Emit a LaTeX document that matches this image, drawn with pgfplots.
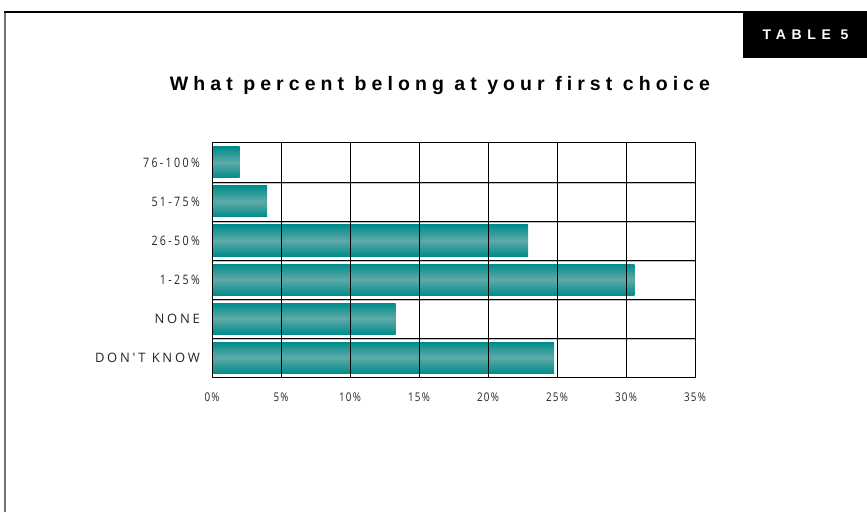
\documentclass[border=0pt]{standalone}
\usepackage{fontspec}
\setmainfont{Liberation Sans}
\usepackage{pgfplots}
\pgfplotsset{compat=1.18}
\newfontfamily\capsfont[LetterSpace=21]{Open Sans}
\newfontfamily\numfont[LetterSpace=18,FakeStretch=0.82]{Open Sans}
\newfontfamily\xnumfont[LetterSpace=10,FakeStretch=0.82]{Open Sans}
\newfontfamily\titlefont[LetterSpace=26]{Liberation Sans}
\newfontfamily\tablefont[LetterSpace=41]{Liberation Sans}
\definecolor{tealD}{RGB}{0,140,140}
\definecolor{tealL}{RGB}{95,170,168}
\pgfplotsset{tealbar/.style={xbar, bar width=31pt, bar shift=0pt, draw=none, top color=tealD, bottom color=tealD, middle color=tealL}}
\begin{document}
\begin{tikzpicture}[x=1pt,y=1pt]
\useasboundingbox (0,0) rectangle (867,512);
\fill[white] (0,0) rectangle (867,512);
\draw[black!55, line width=1.5pt] (5,0) -- (5,500);
\draw[black, line width=1.2pt] (4,500) -- (867,500);
\fill[black] (743,454.3) rectangle (867,500.3);
\node[white, anchor=base, inner sep=0pt] at (805.5,472.7) {\tablefont\bfseries\fontsize{14}{16}\selectfont TABLE 5};
\node[anchor=base, inner sep=0pt] at (440,421.3) {\titlefont\bfseries\fontsize{19.5}{22}\selectfont What percent belong at your first choice};
\begin{axis}[
  at={(212pt,135pt)}, anchor=south west,
  scale only axis, width=483pt, height=234pt,
  xmin=0, xmax=35, ymin=-0.5, ymax=5.5,
  xtick={0,5,...,35},
  xticklabels={0\%,5\%,10\%,15\%,20\%,25\%,30\%,35\%},
  ytick={0,1,2,3,4,5},
  yticklabels={{\capsfont DON'T KNOW},{\capsfont NONE},{\numfont 1-25\%},{\numfont 26-50\%},{\numfont 51-75\%},{\numfont 76-100\%}},
  major tick length=0pt,
  xmajorgrids,
  grid style={black, line width=0.8pt},
  extra y ticks={0.5,1.5,2.5,3.5,4.5},
  extra y tick labels={},
  extra y tick style={grid=major, major grid style={black, line width=0.9pt}},
  axis line style={black, line width=1pt},
  axis on top,
  yticklabel style={font=\fontsize{13}{15}\selectfont, text=black!85, anchor=east, inner sep=0pt, xshift=-12pt},
  xticklabel style={font=\xnumfont\fontsize{12}{14}\selectfont, text=black!85, anchor=base, inner sep=0pt, yshift=-24.7pt},
]
\foreach \k in {0.5,1.5,2.5,3.5,4.5}{
  \edef\tmp{\noexpand\draw[black!25, line width=1.2pt] ([yshift=-1.6pt]axis cs:0,\k) -- ([yshift=-1.6pt]axis cs:35,\k);}\tmp
}
\addplot[tealbar] coordinates {(24.8,0)};
\addplot[tealbar] coordinates {(13.3,1)};
\addplot[tealbar] coordinates {(30.6,2)};
\addplot[tealbar] coordinates {(22.9,3)};
\addplot[tealbar] coordinates {(4.0,4)};
\addplot[tealbar] coordinates {(2.0,5)};
\end{axis}
\end{tikzpicture}
\end{document}
